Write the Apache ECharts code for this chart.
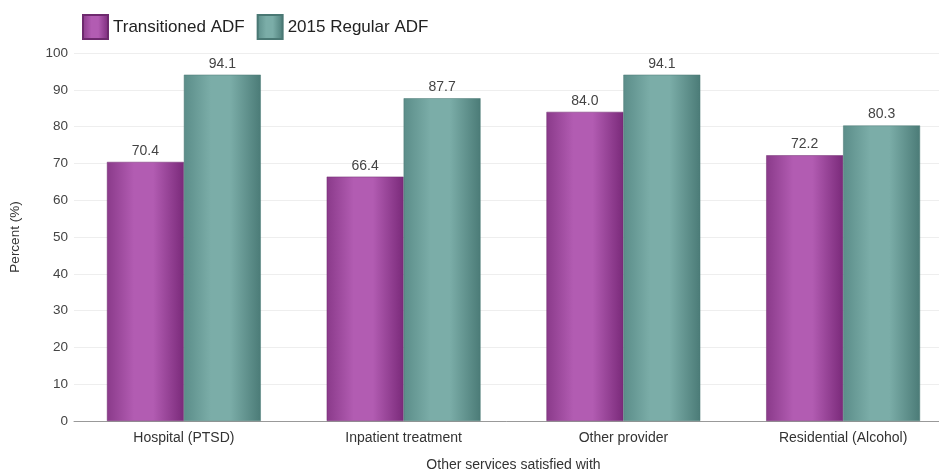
<!DOCTYPE html>
<html>
<head>
<meta charset="utf-8">
<script src="https://cdn.jsdelivr.net/npm/echarts@6/dist/echarts.min.js"></script>
<style>html,body{margin:0;padding:0;background:#fff;overflow:hidden}#c{width:939px;height:471px}</style>
</head>
<body>
<div id="c"></div>
<script>
const categories = ['Hospital (PTSD)', 'Inpatient treatment', 'Other provider', 'Residential (Alcohol)'];
const transitioned = [70.4, 66.4, 84.0, 72.2];
const regular2015 = [94.1, 87.7, 94.1, 80.3];
const seriesNames = ['Transitioned ADF', '2015 Regular ADF'];

function grad(edgeL, mid, edgeR) {
  return new echarts.graphic.LinearGradient(0, 0, 1, 0, [
    {offset: 0, color: edgeL},
    {offset: 0.35, color: mid},
    {offset: 0.6, color: mid},
    {offset: 1, color: edgeR}
  ]);
}
const purple = grad('#8a3a8a', '#b25cb2', '#7a2a7a');
const teal = grad('#5b8d89', '#7bada8', '#4b7b77');

const chart = echarts.init(document.getElementById('c'));
chart.setOption({
  animation: false,
  textStyle: {fontFamily: 'Liberation Sans, Arial, sans-serif'},
  legend: {
    left: 77, top: 9,
    itemWidth: 25, itemHeight: 24, itemGap: 12,
    icon: 'rect',
    textStyle: {fontSize: 17, color: '#222'},
    data: seriesNames
  },
  grid: {left: 74, width: 879, top: 53, bottom: 50, outerBoundsMode: 'none', containLabel: false},
  xAxis: {
    type: 'category',
    data: categories,
    name: 'Other services satisfied with',
    nameLocation: 'middle',
    nameGap: 37,
    nameTextStyle: {fontSize: 14, color: '#333'},
    axisLine: {lineStyle: {color: '#999'}},
    axisTick: {show: false},
    axisLabel: {fontSize: 14, color: '#333', margin: 10}
  },
  yAxis: {
    type: 'value',
    min: 0, max: 100, interval: 10,
    name: 'Percent (%)',
    nameLocation: 'middle',
    nameGap: 52,
    nameTextStyle: {fontSize: 13.5, color: '#333'},
    axisLine: {show: false},
    axisTick: {show: false},
    axisLabel: {fontSize: 13.5, color: '#444', margin: 6},
    splitLine: {lineStyle: {color: '#eeeeee'}}
  },
  series: [
    {
      name: seriesNames[0], type: 'bar', data: transitioned,
      barGap: '0%', barCategoryGap: '30%',
      itemStyle: {color: purple, borderColor: '#6e2a6e', borderWidth: 0.5},
      label: {show: true, position: 'top', fontSize: 14, color: '#444', formatter: p => p.value.toFixed(1), distance: 4}
    },
    {
      name: seriesNames[1], type: 'bar', data: regular2015,
      itemStyle: {color: teal, borderColor: '#4a7874', borderWidth: 0.5},
      label: {show: true, position: 'top', fontSize: 14, color: '#444', formatter: p => p.value.toFixed(1), distance: 4}
    }
  ]
});
</script>
</body>
</html>
